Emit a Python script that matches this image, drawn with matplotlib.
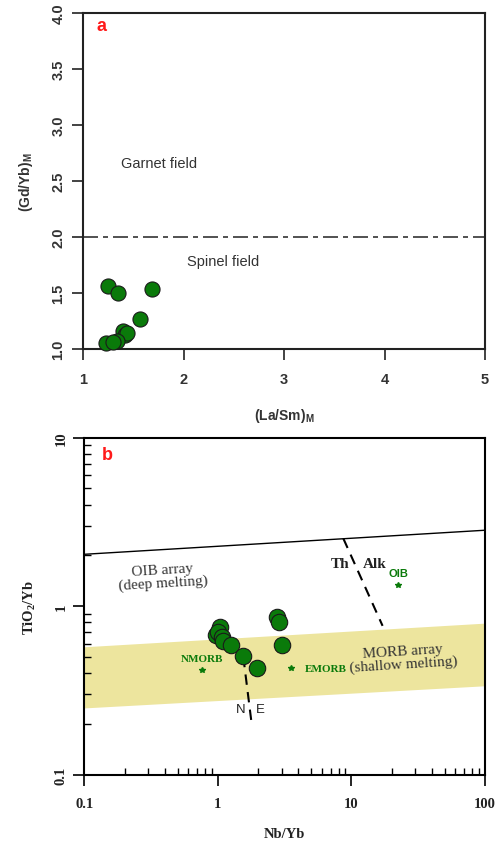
import matplotlib
matplotlib.use("Agg")
import matplotlib.pyplot as plt
import numpy as np
from matplotlib.ticker import LogLocator, NullFormatter, FixedLocator

# ---- Panel a data ----
la_sm = [1.249, 1.343, 1.687, 1.565, 1.398, 1.415, 1.435, 1.333, 1.226, 1.30]
gd_yb = [1.564, 1.496, 1.535, 1.267, 1.163, 1.127, 1.14, 1.074, 1.051, 1.065]
garnet_spinel_boundary = 2.0

# ---- Panel b data ----
nb_yb = [1.04, 0.97, 1.01, 1.07, 1.10, 1.25, 1.53, 1.95, 2.75, 2.88, 3.04]
tio2_yb = [0.748, 0.67, 0.698, 0.660, 0.622, 0.587, 0.507, 0.427, 0.857, 0.807, 0.587]

oib_line_x = [0.1, 100]
oib_line_y = [2.03, 2.82]
morb_x = [0.1, 100]
morb_upper = [0.574, 0.793]
morb_lower = [0.249, 0.337]
thalk_x = [8.69, 17.1]
thalk_y = [2.52, 0.764]
ne_x = [1.55, 1.79]
ne_y = [0.50, 0.20]
ref_names = ["NMORB", "EMORB", "OIB"]
ref_x = [0.764, 3.53, 22.4]
ref_y = [0.42, 0.427, 1.33]

green = "#0a7a0a"
serif = "Liberation Serif"
sans = "Liberation Sans"

fig = plt.figure(figsize=(4.99, 8.45), dpi=100)

# ================= Panel a =================
axa = fig.add_axes([0.167, 0.586, 0.805, 0.398])
axa.set_xlim(1, 5)
axa.set_ylim(1, 4)
axa.axhline(garnet_spinel_boundary, color="#333333", lw=1.2, dashes=(9, 3, 3, 3))
axa.scatter(la_sm, gd_yb, s=118, facecolor=green, edgecolor="#1a1a1a", lw=0.8, zorder=3, clip_on=False)
axa.set_xticks([1, 2, 3, 4, 5])
axa.set_yticks([1.0, 1.5, 2.0, 2.5, 3.0, 3.5, 4.0])
axa.set_yticklabels(["1.0", "1.5", "2.0", "2.5", "3.0", "3.5", "4.0"], rotation=90, va="center")
for lab in axa.get_xticklabels() + axa.get_yticklabels():
    lab.set_fontfamily(sans)
    lab.set_fontweight("bold")
    lab.set_fontsize(10.5)
    lab.set_color("#333333")
axa.tick_params(direction="out", length=8, width=1.2, color="#222222")
axa.tick_params(axis="x", pad=9)
axa.tick_params(axis="y", pad=5)
for sp in axa.spines.values():
    sp.set_linewidth(1.5)
    sp.set_color("#222222")
axa.text(1.754, 2.654, "Garnet field", ha="center", va="center", fontsize=10.5,
         family=sans, color="#333333")
axa.text(2.394, 1.78, "Spinel field", ha="center", va="center", fontsize=10.5,
         family=sans, color="#333333")
axa.text(0.046, 0.96, "a", transform=axa.transAxes, ha="center", va="center",
         fontsize=13, fontweight="bold", color="#ff1a1a", family=sans)
axa.set_xlabel(r"(La/Sm)$_\mathregular{M}$", fontsize=10, fontweight="bold",
               family=sans, color="#333333", labelpad=14)
axa.set_ylabel(r"(Gd/Yb)$_\mathregular{M}$", fontsize=10, fontweight="bold",
               family=sans, color="#333333", labelpad=12)

# ================= Panel b =================
axb = fig.add_axes([0.169, 0.082, 0.803, 0.399])
axb.set_xscale("log")
axb.set_yscale("log")
axb.set_xlim(0.1, 100)
axb.set_ylim(0.1, 10)

axb.fill_between(morb_x, morb_lower, morb_upper, color="#ede59e", lw=0, zorder=1)
axb.plot(oib_line_x, oib_line_y, color="black", lw=1.0, zorder=2)
axb.plot(thalk_x, thalk_y, color="black", lw=1.5, dashes=(5, 3.5), zorder=2)
axb.plot(ne_x, ne_y, color="black", lw=1.5, dashes=(5, 3.5), zorder=2)
axb.scatter(nb_yb, tio2_yb, s=140, facecolor=green, edgecolor="#1a1a1a", lw=0.8, zorder=4)
axb.plot(ref_x, ref_y, ls="none", marker="*", ms=4, color=green, zorder=3)

axb.text(ref_x[0], 0.49, ref_names[0], ha="center", va="center", fontsize=8,
         fontweight="bold", family=serif, color=green)
axb.text(4.45, ref_y[1], ref_names[1], ha="left", va="center", fontsize=8,
         fontweight="bold", family=serif, color=green)
axb.text(ref_x[2], 1.57, ref_names[2], ha="center", va="center", fontsize=8,
         fontweight="bold", family=sans, color=green)
axb.text(8.2, 1.80, "Th", ha="center", va="center", fontsize=11,
         fontweight="bold", family=serif, color="#222222")
axb.text(15.0, 1.80, "Alk", ha="center", va="center", fontsize=11,
         fontweight="bold", family=serif, color="#222222")
axb.text(0.386, 1.51, "OIB array\n(deep melting)", ha="center", va="center",
         fontsize=11, family=serif, color="#333333", rotation=3.4, linespacing=1.0)
axb.text(24.4, 0.497, "MORB array\n(shallow melting)", ha="center", va="center",
         fontsize=11, family=serif, color="#333333", rotation=3.6, linespacing=1.0)
axb.text(1.48, 0.247, "N", ha="center", va="center", fontsize=9.5, family=sans, color="#222222")
axb.text(2.07, 0.247, "E", ha="center", va="center", fontsize=9.5, family=sans, color="#222222")
axb.text(0.057, 0.951, "b", transform=axb.transAxes, ha="center", va="center",
         fontsize=13, fontweight="bold", color="#ff1a1a", family=sans)

axb.xaxis.set_major_locator(FixedLocator([0.1, 1, 10, 100]))
axb.yaxis.set_major_locator(FixedLocator([0.1, 1, 10]))
axb.xaxis.set_minor_locator(LogLocator(base=10, subs=np.arange(2, 10)))
axb.yaxis.set_minor_locator(LogLocator(base=10, subs=np.arange(2, 10)))
axb.xaxis.set_minor_formatter(NullFormatter())
axb.yaxis.set_minor_formatter(NullFormatter())
axb.set_xticklabels(["0.1", "1", "10", "100"])
axb.set_yticklabels(["0.1", "1", "10"], rotation=90, va="center")
for lab in axb.get_xticklabels() + axb.get_yticklabels():
    lab.set_fontfamily(serif)
    lab.set_fontweight("bold")
    lab.set_fontsize(10.5)
    lab.set_color("#222222")
axb.tick_params(which="major", direction="out", length=8, width=1.2)
axb.tick_params(axis="x", which="major", pad=8)
axb.tick_params(axis="y", which="major", pad=4)
axb.tick_params(which="minor", direction="in", length=5, width=1.0)
for sp in axb.spines.values():
    sp.set_linewidth(1.5)
    sp.set_color("black")
axb.set_xlabel(r"Nb/Yb", fontsize=10.5, fontweight="bold", family=serif,
               color="#222222", labelpad=12)
axb.set_ylabel(r"TiO$_\mathregular{2}$/Yb", fontsize=10.5, fontweight="bold",
               family=serif, color="#222222", labelpad=12)

fig.savefig("out.png", dpi=100)
